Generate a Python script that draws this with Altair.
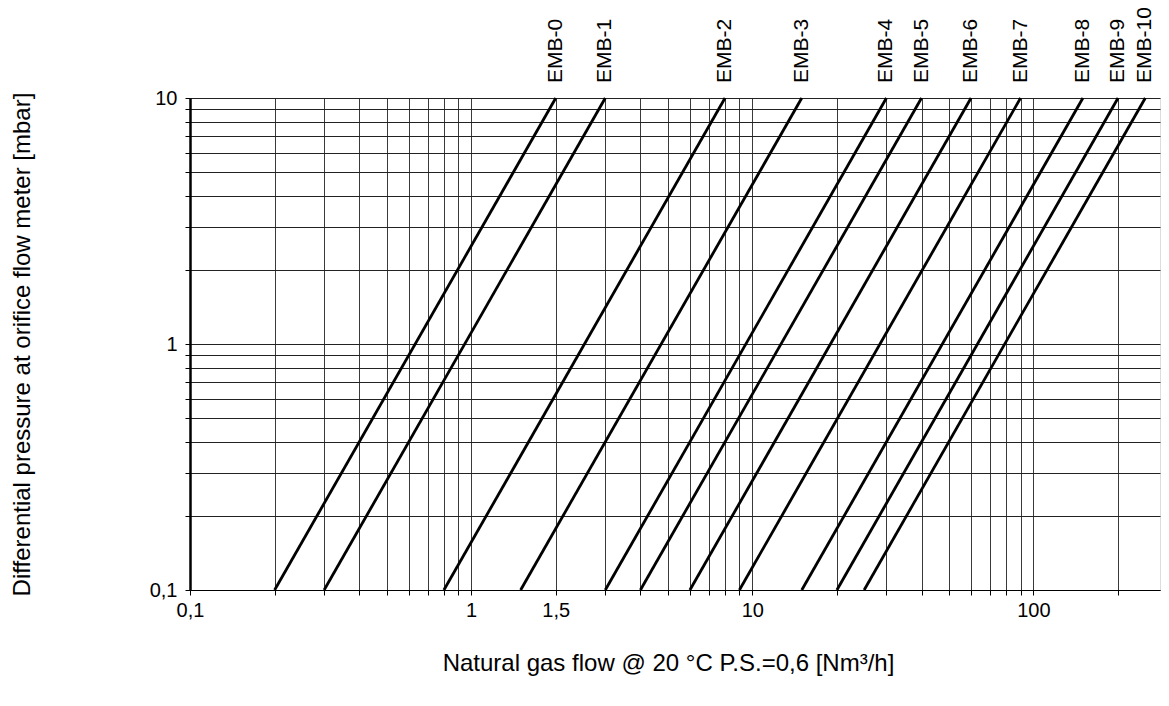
import altair as alt
import pandas as pd

# ---- data ----
names = ["EMB-0", "EMB-1", "EMB-2", "EMB-3", "EMB-4", "EMB-5",
         "EMB-6", "EMB-7", "EMB-8", "EMB-9", "EMB-10"]
flow_at_low = [0.2, 0.3, 0.8, 1.5, 3, 4, 6, 9, 15, 20, 25]       # Nm3/h at 0.1 mbar
flow_at_high = [2, 3, 8, 15, 30, 40, 60, 90, 150, 200, 250]     # Nm3/h at 10 mbar
dp_low = 0.1
dp_high = 10

x_grid = [0.1, 0.2, 0.3, 0.4, 0.5, 0.6, 0.7, 0.8, 0.9,
          1, 2, 3, 4, 5, 6, 7, 8, 9,
          10, 20, 30, 40, 50, 60, 70, 80, 90,
          100, 200]
x_tick_values = [0.1, 1, 2, 10, 100]
x_tick_labels = ["0,1", "1", "1,5", "10", "100"]

y_grid = [0.1, 0.2, 0.3, 0.4, 0.5, 0.6, 0.7, 0.8, 0.9,
          1, 2, 3, 4, 5, 6, 7, 8, 9, 10]
y_tick_values = [0.1, 1, 10]
y_tick_labels = ["0,1", "1", "10"]

# the reference runs to ~300 at the page edge; the page margin leaves room up to ~282
x_domain = [0.1, 282]
y_domain = [0.1, 10]

x_title = "Natural gas flow @ 20 °C P.S.=0,6 [Nm³/h]"
y_title = "Differential pressure at orifice flow meter [mbar]"

# ---- tables ----
rows = []
for n, a, b in zip(names, flow_at_low, flow_at_high):
    rows.append({"name": n, "q": a, "dp": dp_low})
    rows.append({"name": n, "q": b, "dp": dp_high})
lines_df = pd.DataFrame(rows)
labels_df = pd.DataFrame({"name": names, "q": flow_at_high, "dp": [dp_high] * len(names)})


def label_expr(values, labels):
    expr = "''"
    for v, l in reversed(list(zip(values, labels))):
        expr = f"datum.value == {v} ? '{l}' : ({expr})"
    return expr


FONT = "Liberation Sans"

x_scale = alt.Scale(type="log", domain=x_domain, nice=False)
y_scale = alt.Scale(type="log", domain=y_domain, nice=False)

x_axis = alt.Axis(
    values=x_grid,
    labelExpr=label_expr(x_tick_values, x_tick_labels),
    grid=True, gridColor="#3a3a3a", gridWidth=1, gridOpacity=1,
    domainColor="#000000", domainWidth=1,
    tickColor="#000000", tickSize=5, tickWidth=1,
    labelFont=FONT, labelFontSize=20, labelColor="#000000", labelPadding=5,
    labelFlush=False, labelOverlap=False,
    title=x_title, titleFont=FONT, titleFontSize=24, titleFontWeight="normal",
    titleColor="#000000", titleX=478, titleY=73, titleAlign="center",
    titleBaseline="middle", titleAnchor="middle",
)
y_axis = alt.Axis(
    values=y_grid,
    labelExpr=label_expr(y_tick_values, y_tick_labels),
    grid=True, gridColor="#222222", gridWidth=1, gridOpacity=1,
    domainColor="#000000", domainWidth=2.5,
    tickColor="#000000", tickSize=5, tickWidth=1,
    labelFont=FONT, labelFontSize=20, labelColor="#000000", labelPadding=8,
    labelFlush=False, labelOverlap=False,
    title=y_title, titleFont=FONT, titleFontSize=24, titleFontWeight="normal",
    titleColor="#000000", titleX=-168, titleY=246, titleAngle=270,
    titleAlign="center", titleBaseline="middle",
)

lines = alt.Chart(lines_df).mark_line(color="#000000", strokeWidth=2.8).encode(
    x=alt.X("q:Q", scale=x_scale, axis=x_axis),
    y=alt.Y("dp:Q", scale=y_scale, axis=y_axis),
    detail="name:N",
)

labels = alt.Chart(labels_df).mark_text(
    angle=270, align="left", baseline="middle", dx=15,
    font=FONT, fontSize=21, color="#000000",
).encode(
    x=alt.X("q:Q", scale=x_scale),
    y=alt.Y("dp:Q", scale=y_scale),
    text="name:N",
)

chart = alt.layer(lines, labels).properties(
    width=970, height=492,
    autosize=alt.AutoSizeParams(type="none"),
    padding={"left": 182, "top": 90, "right": 1, "bottom": 96},
).configure_view(stroke=None).configure(background="#ffffff")

chart.save("out.html", embed_options={"renderer": "svg", "actions": False})
